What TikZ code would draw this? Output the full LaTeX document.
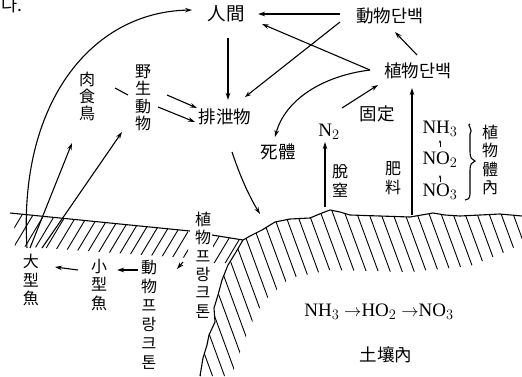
\documentclass[tikz,border=0pt]{standalone}
\usepackage{fontspec}
\setmainfont{Liberation Serif}
\newfontfamily\cjk{Noto Sans CJK KR}
\usetikzlibrary{arrows.meta,calc}
\begin{document}
\begin{tikzpicture}[x=1pt,y=-1pt,
  lbl/.style={font=\cjk\fontsize{17.5}{20}\selectfont, inner sep=0pt},
  vt/.style={font=\cjk\fontsize{16}{18.3}\selectfont, align=center, inner sep=0pt},
  chem/.style={font=\fontsize{19}{22}\selectfont, inner sep=0pt},
  arr/.style={line width=1.1pt, -{Stealth[length=7pt,width=4.5pt]}},
  oarr/.style={line width=1.1pt, -{Stealth[open,length=6pt,width=4.5pt]}},
  tarr/.style={line width=0.7pt, -{Stealth[length=3pt,width=2.5pt]}},
  ln/.style={line width=1.1pt},
  hatch/.style={line width=0.9pt}]
\useasboundingbox (0,0) rectangle (522,376);

% ---------- text nodes ----------
\node[lbl] (frag) at (12,5) {다.};
\node[lbl, font=\cjk\fontsize{18.5}{20}\selectfont] (human) at (226,14) {人間};
\node[lbl] (animalP) at (390,16) {動物단백};
\node[lbl] (plantP) at (418,71) {植物단백};
\node[lbl] (excr) at (225,117) {排泄物};
\node[lbl] (dead) at (278,152) {死體};
\node[lbl] (fix) at (377,114) {固定};
\node[lbl] (soil) at (386,355) {土壤內};
\node[vt, font=\cjk\fontsize{16}{17}\selectfont] (birds) at (87,96) {肉\\食\\鳥};
\node[vt, font=\cjk\fontsize{16}{17.5}\selectfont] (wild) at (143,98) {野\\生\\動\\物};
\node[vt] (denit) at (340,181) {脫\\窒};
\node[vt] (fert) at (393,178) {肥\\料};
\node[vt] (inplant) at (490,160) {植\\物\\體\\內};
\node[vt] (bigfish) at (31,280) {大\\型\\魚};
\node[vt] (smallfish) at (99,285) {小\\型\\魚};
\node[vt, font=\cjk\fontsize{16}{19}\selectfont] (zoo) at (149,315) {動\\物\\프\\랑\\크\\톤};
\node[vt] (phyto) at (203,265) {植\\物\\프\\랑\\크\\톤};
\node[chem] (n2) at (329,132) {N$_2$};
\node[chem] (nh3) at (440,129) {NH$_3$};
\node[chem] (no2) at (440,160) {NO$_2$};
\node[chem] (no3) at (440,192) {NO$_3$};
\node[chem] (chain) at (379,312) {NH$_3\rightarrow$HO$_2\rightarrow$NO$_3$};

% ---------- ground, water ----------
\draw[ln] (243,240) -- (252,235) -- (262,230) -- (275,222) -- (290,219)
  -- (310,218) -- (322,213) -- (330,210) -- (340,212) -- (350,215) -- (380,216)
  -- (410,217) -- (433,213) -- (445,215) -- (460,216) -- (480,215) -- (500,214) -- (522,216);
\draw[ln] (243,240) -- (236,252) -- (228,265) -- (222,280) -- (218,295) -- (214,308)
  -- (215,322) -- (209,335) -- (207,345) -- (203,358) -- (200,376);
\begin{scope}
  \clip (243,240) -- (252,235) -- (262,230) -- (275,222) -- (290,219)
  -- (310,218) -- (322,213) -- (330,210) -- (340,212) -- (350,215) -- (380,216)
  -- (410,217) -- (433,213) -- (445,215) -- (460,216) -- (480,215) -- (500,214) -- (522,216)
  -- (522,242) -- (510,250) -- (470,266) -- (410,272) -- (330,270) -- (290,278)
  -- (265,300) -- (255,315) -- (245,340) -- (232,376) -- (200,376) -- (203,358)
  -- (207,345) -- (209,335) -- (215,322) -- (214,308) -- (218,295) -- (222,280)
  -- (228,265) -- (236,252) -- cycle;
  \foreach \i in {-80,-68,...,560} \draw[hatch] (\i,200) -- (\i+66,380);
\end{scope}
% water surface
\coordinate (w1) at (10,213);
\coordinate (w2) at (190,231);
\coordinate (w3) at (212,235);
\coordinate (w4) at (243,240);
\draw[ln] (w1) -- (w2);
\draw[ln] (w3) -- (w4);
\begin{scope}
  \clip (14,213.4) -- (188,230.8) -- (188,258) -- (15,246) -- cycle;
  \foreach \i in {20,31,...,250} \draw[hatch] (\i,200) -- (\i-48,280);
\end{scope}
\begin{scope}
  \clip (213,235.1) -- (243,240) -- (236,252) -- (229,263) -- (213,263) -- cycle;
  \foreach \i in {230,241,...,300} \draw[hatch] (\i,200) -- (\i-48,280);
\end{scope}

% ---------- connectors ----------
\coordinate (sea1) at (27,248);
\coordinate (sea2) at (30,248);
\coordinate (sea3) at (42,248);
\coordinate (ground) at (260,214);
\draw[arr] (sea1) .. controls (18,105) and (90,12) .. ($(human)+(-34,-4)$);
\draw[arr] (sea2) -- ($(birds)+(-15,47)$);
\draw[arr] (sea3) -- ($(wild)+(-21,34)$);
\draw[ln] ($(birds)+(28,-8)$) -- ($(wild)+(-15,-3)$);
\draw[arr] ($(wild)+(24,-3)$) -- ($(excr)+(-28,-9)$);
\draw[arr] ($(wild)+(15,9)$) -- ($(excr)+(-30,5)$);
\draw[arr] ($(human)+(2,24)$) -- ($(excr)+(3,-17)$);
\draw[oarr] ($(animalP)+(-50,6)$) -- ($(excr)+(20,-20)$);
\draw[arr] ($(animalP)+(-50,-2)$) -- ($(human)+(32,0)$);
\draw[arr] ($(plantP)+(-48,-1)$) -- ($(human)+(36,10)$);
\draw[arr] ($(plantP)+(-1,-16)$) -- ($(animalP)+(5,16)$);
\draw[arr] ($(plantP)+(-48,-1)$) .. controls (322,76) and (285,100) .. ($(dead)+(-3,-15)$);
\draw[arr] ($(fix)+(-35,-6)$) -- ($(plantP)+(-40,14)$);
\draw[arr] ($(denit)+(-15,26)$) -- ($(n2)+(-4,10)$);
\draw[arr] ($(fert)+(19,37)$) -- ($(plantP)+(-6,17)$);
\draw[tarr] ($(no3)+(0,-10)$) -- ($(no3)+(0,-17)$);
\draw[tarr] ($(no2)+(0,-13)$) -- ($(no2)+(0,-20)$);
\draw[ln] (470,124) .. controls (466,124) and (474,130) .. (470,134) -- (470,152)
  .. controls (470,158) and (472,160) .. (475,161)
  .. controls (472,162) and (470,164) .. (470,170) -- (470,194)
  .. controls (470,199) and (467,200) .. (465,200);
\draw[arr] ($(excr)+(7,35)$) .. controls (240,176) and (249,196) .. (ground);
\draw[arr] ($(phyto)+(-20,-3)$) -- ($(phyto)+(-26,4)$);
\draw[arr] ($(zoo)+(-11,-45)$) -- ($(smallfish)+(18,-15)$);
\draw[arr] ($(smallfish)+(-21,-15)$) -- ($(bigfish)+(24,-13)$);
\end{tikzpicture}
\end{document}
